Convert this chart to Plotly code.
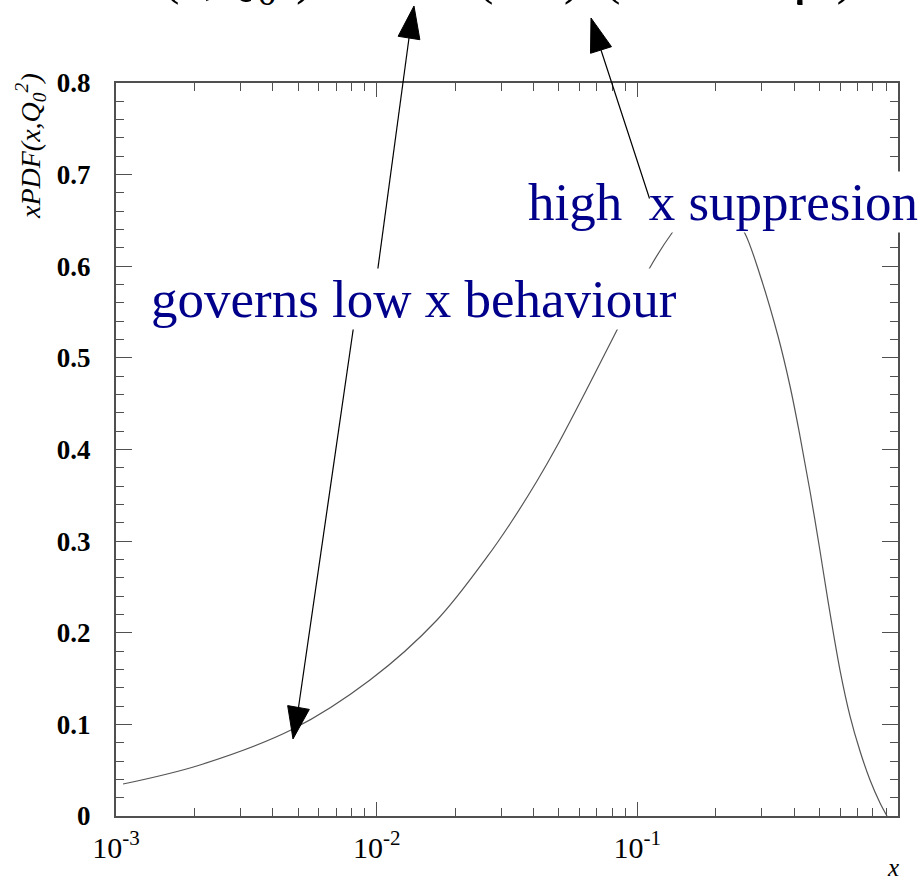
import math
import plotly.graph_objects as go

# Parton density at the starting scale
x_vals = [0.001064, 0.002100, 0.004775, 0.009427, 0.01704, 0.02651, 0.03247,
          0.04121, 0.04917, 0.06583, 0.08208, 0.1138, 0.1358, 0.1524, 0.1739,
          0.1933, 0.2112, 0.2348, 0.2588, 0.2955, 0.3464, 0.3852, 0.4207,
          0.4596, 0.5022, 0.5388, 0.5990, 0.6545, 0.7148, 0.7810, 0.8532,
          0.9074]
pdf_vals = [0.0349, 0.0557, 0.0949, 0.1484, 0.2139, 0.2827, 0.3187,
            0.3656, 0.4038, 0.4726, 0.5261, 0.6025, 0.6363, 0.6538, 0.6647,
            0.6668, 0.6636, 0.6537, 0.6358, 0.5905, 0.5239, 0.4693, 0.4147,
            0.3547, 0.2892, 0.2347, 0.1593, 0.1091, 0.0709, 0.0393, 0.0142,
            0.0]

x_tick_vals = [0.001, 0.01, 0.1]
x_tick_text = ["10<sup>-3</sup>", "10<sup>-2</sup>", "10<sup>-1</sup>"]
x_minor_vals = [m * d for d in (0.001, 0.01, 0.1) for m in range(2, 10)]

SERIF = "Liberation Serif"
FRAME = "#505050"
NAVY = "#00008b"

W, H = 924, 882
L, R, T, B = 116, 898, 83, 816


def paper(px, py):
    return (px - L) / (R - L), (B - py) / (B - T)


fig = go.Figure()
fig.add_trace(go.Scatter(
    x=x_vals, y=pdf_vals, mode="lines",
    line=dict(color="#555555", width=1.2, shape="spline", smoothing=1.0),
    showlegend=False, hoverinfo="skip",
))

fig.update_layout(
    width=W, height=H,
    margin=dict(l=L, r=W - R, t=T, b=H - B),
    paper_bgcolor="white", plot_bgcolor="white",
    font=dict(family=SERIF, color="black"),
    xaxis=dict(
        type="log", range=[-3, 0],
        tickvals=x_tick_vals, ticktext=x_tick_text,
        ticks="inside", ticklen=14, tickwidth=1.3, tickcolor=FRAME,
        minor=dict(tickvals=x_minor_vals, ticks="inside", ticklen=8,
                   tickwidth=1.1, tickcolor=FRAME),
        showline=True, linecolor=FRAME, linewidth=2, mirror="ticks",
        showgrid=False, zeroline=False,
        tickfont=dict(family=SERIF, size=30, color="black"),
        ticklabelstandoff=4,
    ),
    yaxis=dict(
        range=[0, 0.8], dtick=0.1, tick0=0,
        ticks="inside", ticklen=16, tickwidth=1.3, tickcolor=FRAME,
        minor=dict(dtick=0.02, ticks="inside", ticklen=8, tickwidth=1.1,
                   tickcolor=FRAME),
        showline=True, linecolor=FRAME, linewidth=2, mirror="ticks",
        showgrid=False, zeroline=False,
        tickfont=dict(family=SERIF, size=27, color="black", weight="bold"),
        ticklabelstandoff=18,
    ),
)

annotations = []
shapes = []

# Axis titles
tx, ty = paper(30, 146)
annotations.append(dict(
    x=tx, y=ty, xref="paper", yref="paper", textangle=-90,
    text="<i>xPDF(x,Q<sub>0</sub><sup>2</sup>)</i>", showarrow=False,
    font=dict(family=SERIF, size=28, color="black"),
    xanchor="center", yanchor="middle",
))
tx, ty = paper(893, 868)
annotations.append(dict(
    x=tx, y=ty, xref="paper", yref="paper", text="<i>x</i>",
    showarrow=False, font=dict(family=SERIF, size=25, color="black"),
    xanchor="center", yanchor="middle",
))

# Parametrisation written above the frame
tx, ty = paper(27, -26)
annotations.append(dict(
    x=tx, y=ty, xref="paper", yref="paper",
    text=("<i>xPDF</i>(<i>x</i>,<i>Q</i><sub>0</sub><sup>2</sup>) = "
          "<i>A x</i><sup>-λ</sup>(1-<i>x</i>)<sup>η</sup>(1+ε√<i>x</i>+γ<i>x</i>)"),
    showarrow=False, font=dict(family=SERIF, size=55, color="black"),
    xanchor="left", yanchor="middle",
))

# Arrow heads (tip and base centre, pixels)
heads = [((414, 6), (409, 38)), ((293, 739), (298.5, 707.5)),
         ((591, 18), (601, 50))]
for tip, base in heads:
    dx, dy = tip[0] - base[0], tip[1] - base[1]
    n = math.hypot(dx, dy)
    nx, ny = -dy / n, dx / n
    half = 11
    c0 = paper(*tip)
    c1 = paper(base[0] + nx * half, base[1] + ny * half)
    c2 = paper(base[0] - nx * half, base[1] - ny * half)
    path = "M{:.5f},{:.5f} L{:.5f},{:.5f} L{:.5f},{:.5f} Z".format(
        c0[0], c0[1], c1[0], c1[1], c2[0], c2[1])
    shapes.append(dict(type="path", path=path, xref="paper", yref="paper",
                       fillcolor="black", line=dict(color="black", width=1),
                       layer="above"))

# Shafts of the low-x arrows (the label box hides their inner ends)
for p0, p1 in [((375, 290), (409, 38)), ((356, 310), (298.5, 707.5))]:
    a = paper(*p0)
    b = paper(*p1)
    shapes.append(dict(type="line", xref="paper", yref="paper",
                       x0=a[0], y0=a[1], x1=b[0], y1=b[1],
                       line=dict(color="black", width=1.2), layer="above"))

# Labels with white boxes
tx, ty = paper(414, 299)
annotations.append(dict(
    x=tx, y=ty, xref="paper", yref="paper", text="governs low x behaviour",
    showarrow=False, font=dict(family=SERIF, size=53, color=NAVY),
    bgcolor="white", xanchor="center", yanchor="middle", borderpad=1,
))
tx, ty = paper(723, 202)
annotations.append(dict(
    x=tx, y=ty, xref="paper", yref="paper",
    text="high\u00a0 x suppresion",
    showarrow=False, font=dict(family=SERIF, size=53, color=NAVY),
    bgcolor="white", xanchor="center", yanchor="middle", borderpad=1,
))

# Shaft of the high-x arrow, drawn over its label box
bx, by = paper(601, 50)
annotations.append(dict(
    x=bx, y=by, xref="paper", yref="paper", text="",
    showarrow=True, arrowhead=0, arrowwidth=1.2, arrowcolor="black",
    ax=650 - 601, ay=200 - 50,
))

fig.update_layout(annotations=annotations, shapes=shapes)

fig.write_html("out.html")
